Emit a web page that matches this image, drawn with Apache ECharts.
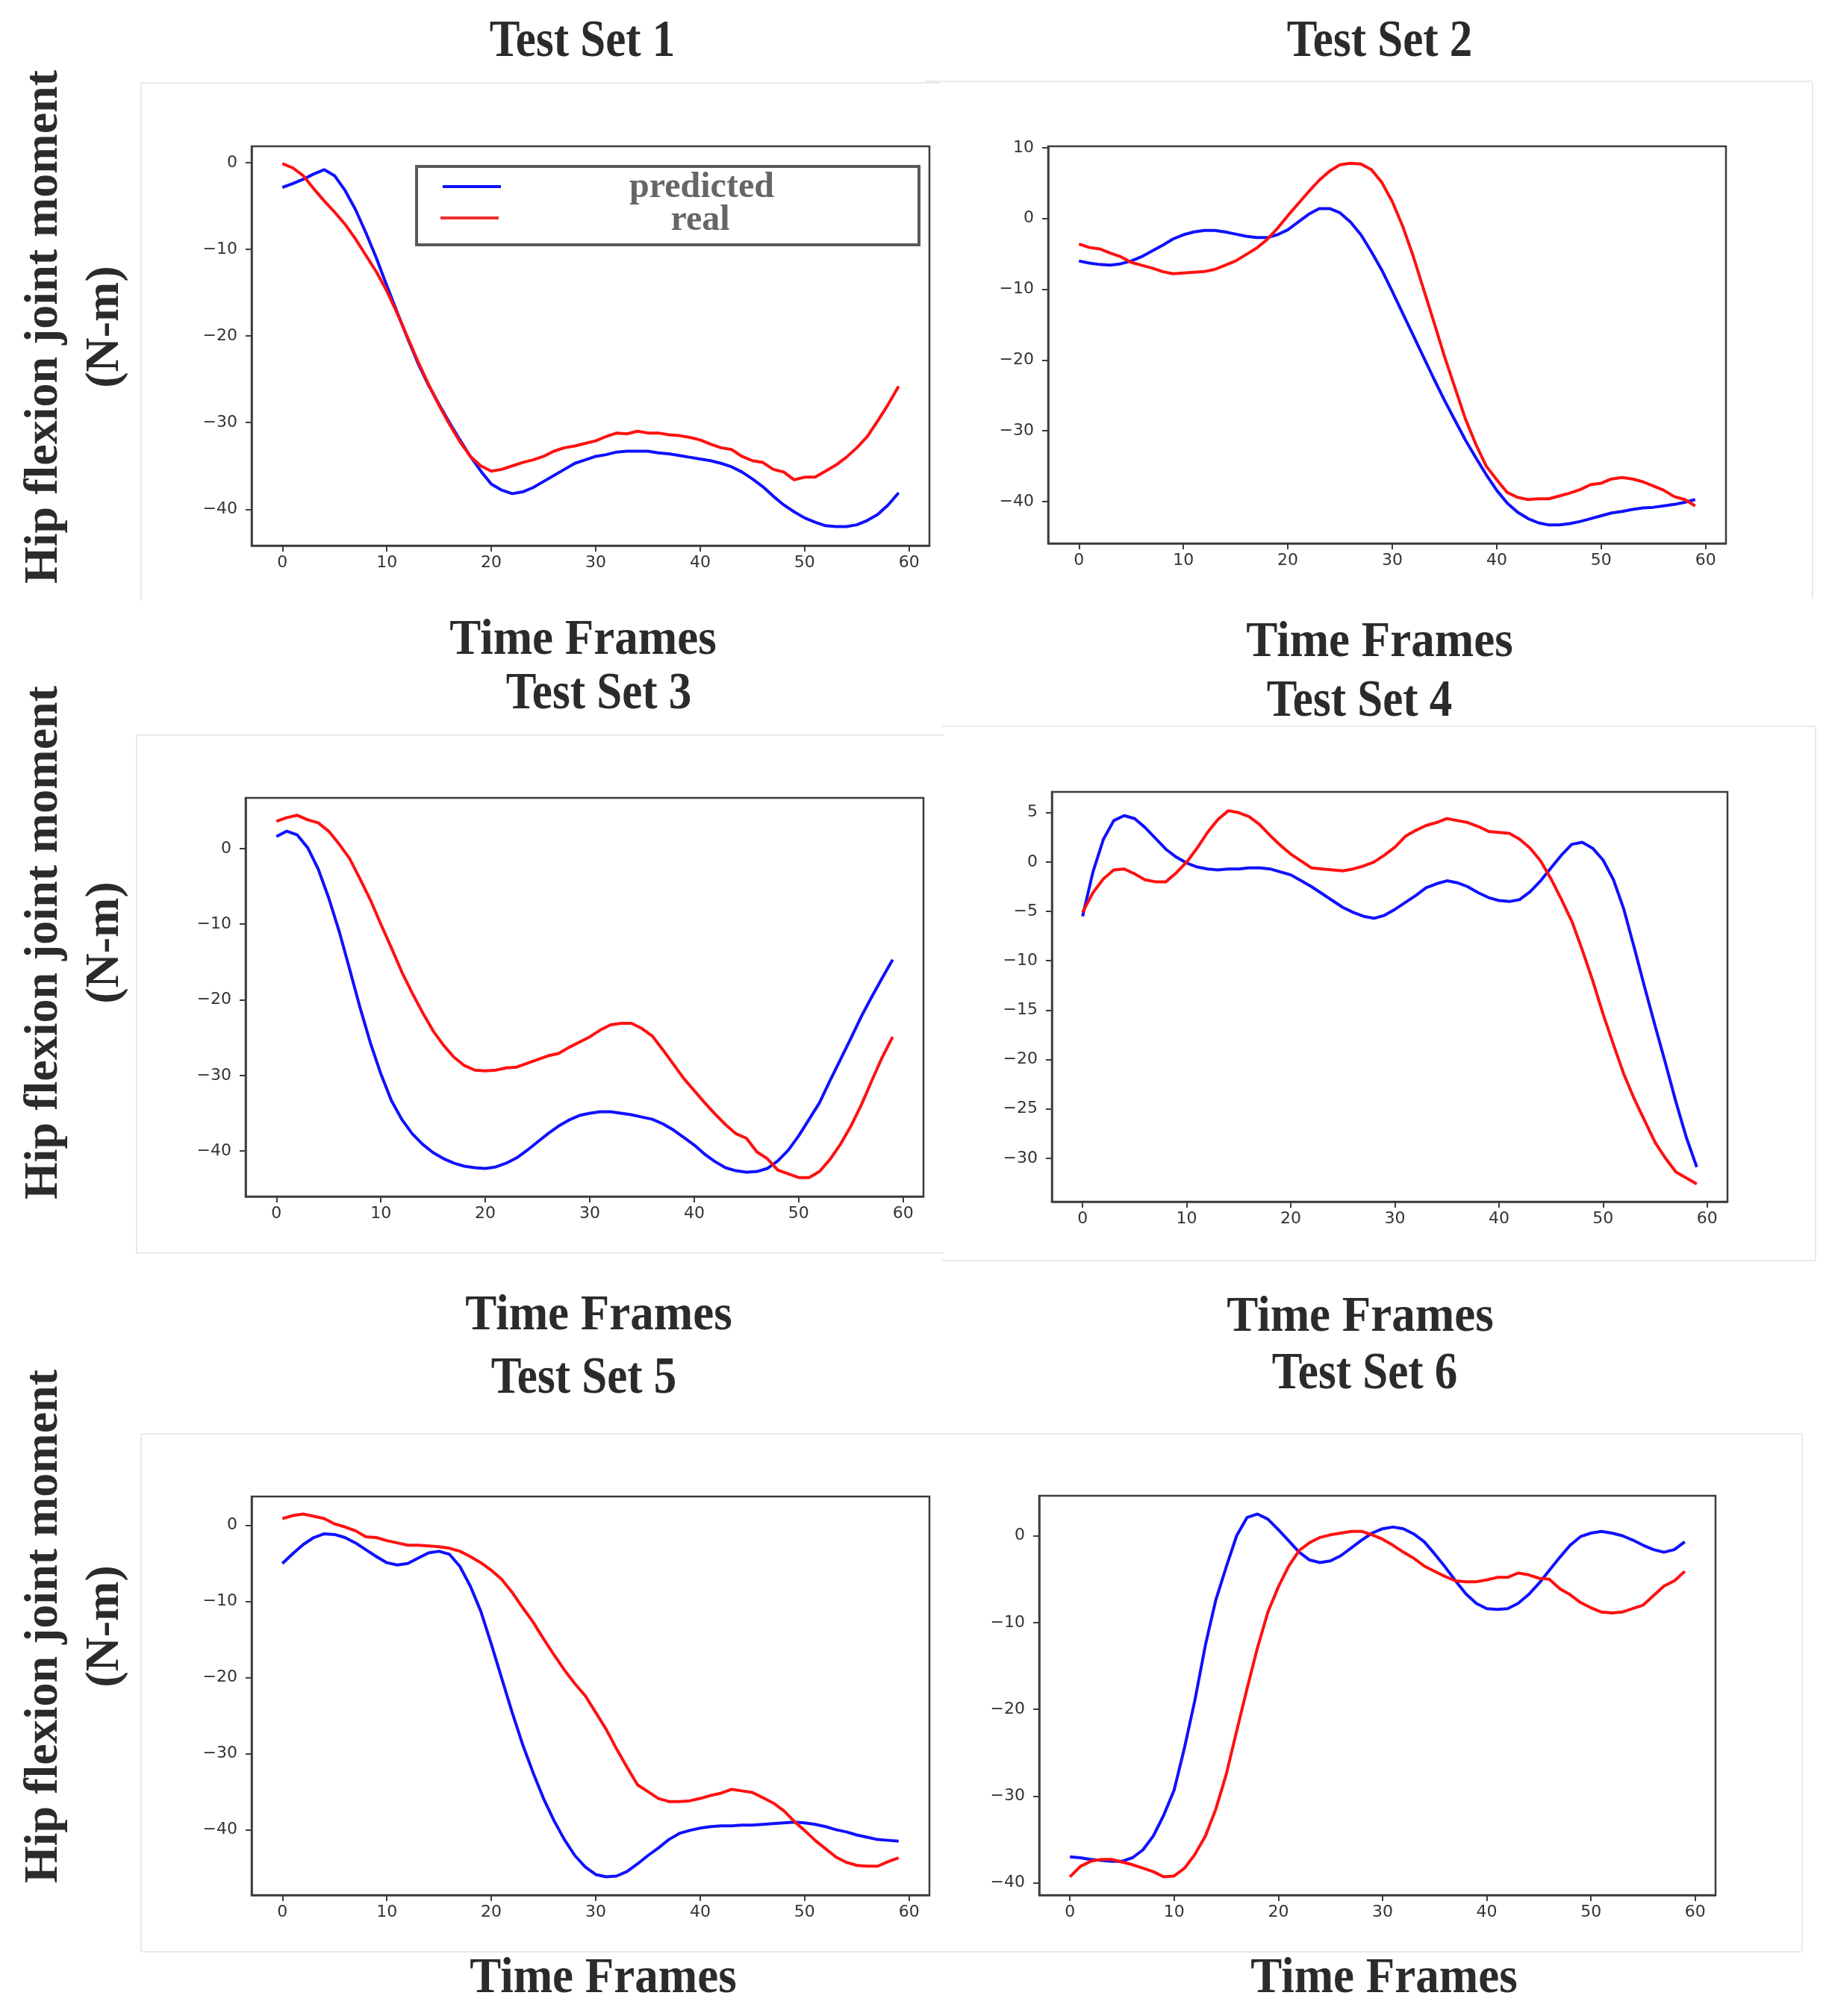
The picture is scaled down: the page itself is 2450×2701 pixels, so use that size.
<!DOCTYPE html>
<html>
<head>
<meta charset="utf-8">
<script src="https://cdn.jsdelivr.net/npm/echarts@6.0.0/dist/echarts.min.js"></script>
<style>
  html, body { margin: 0; padding: 0; background: #ffffff; }
  #chart { width: 2450px; height: 2701px; }
</style>
</head>
<body>
<div id="chart"></div>
<script>
// ---------------- data ----------------
const frames = Array.from({ length: 60 }, (_, i) => i);

const predicted1 = [-2.85, -2.4, -1.9, -1.3, -0.8, -1.5, -3.2, -5.4, -8.1, -11.0,
  -14.2, -17.3, -20.3, -23.2, -25.7, -27.9, -30.0, -32.0, -33.9, -35.6,
  -37.1, -37.8, -38.2, -38.0, -37.5, -36.8, -36.1, -35.4, -34.7, -34.3,
  -33.9, -33.7, -33.4, -33.3, -33.3, -33.3, -33.5, -33.6, -33.8, -34.0,
  -34.2, -34.4, -34.7, -35.1, -35.7, -36.5, -37.4, -38.5, -39.5, -40.3,
  -41.0, -41.5, -41.9, -42.0, -42.0, -41.8, -41.3, -40.6, -39.5, -38.1];
const real1 = [-0.1, -0.6, -1.5, -3.0, -4.4, -5.7, -7.1, -8.8, -10.7, -12.6,
  -14.8, -17.4, -20.2, -23.0, -25.6, -28.0, -30.2, -32.2, -33.9, -35.0,
  -35.6, -35.4, -35.0, -34.6, -34.3, -33.9, -33.3, -32.9, -32.7, -32.4,
  -32.1, -31.6, -31.2, -31.3, -31.0, -31.2, -31.2, -31.4, -31.5, -31.7,
  -32.0, -32.5, -32.9, -33.1, -33.9, -34.4, -34.6, -35.4, -35.7, -36.6,
  -36.3, -36.3, -35.6, -34.9, -34.0, -32.9, -31.6, -29.8, -27.9, -25.8];

const predicted2 = [-6.0, -6.3, -6.5, -6.6, -6.4, -6.0, -5.4, -4.6, -3.8, -2.9,
  -2.3, -1.9, -1.7, -1.7, -1.9, -2.2, -2.5, -2.7, -2.7, -2.3,
  -1.6, -0.5, 0.6, 1.4, 1.4, 0.8, -0.5, -2.3, -4.7, -7.3,
  -10.3, -13.4, -16.5, -19.6, -22.7, -25.7, -28.5, -31.3, -33.8, -36.2,
  -38.4, -40.2, -41.5, -42.4, -43.0, -43.3, -43.3, -43.1, -42.8, -42.4,
  -42.0, -41.6, -41.4, -41.1, -40.9, -40.8, -40.6, -40.4, -40.1, -39.7];
const real2 = [-3.6, -4.1, -4.3, -4.9, -5.4, -6.2, -6.6, -7.0, -7.5, -7.8,
  -7.7, -7.6, -7.5, -7.2, -6.6, -6.0, -5.1, -4.2, -3.0, -1.4,
  0.4, 2.1, 3.8, 5.4, 6.7, 7.6, 7.8, 7.7, 6.9, 5.1,
  2.4, -1.1, -5.3, -10.0, -14.7, -19.5, -23.9, -28.3, -31.9, -35.0,
  -36.9, -38.7, -39.4, -39.7, -39.6, -39.6, -39.2, -38.8, -38.3, -37.6,
  -37.4, -36.8, -36.6, -36.8, -37.2, -37.8, -38.4, -39.3, -39.7, -40.6];

const predicted3 = [1.6, 2.3, 1.8, 0.1, -2.7, -6.5, -10.9, -15.9, -21.0, -25.7,
  -29.8, -33.3, -35.8, -37.7, -39.1, -40.2, -41.0, -41.6, -42.0, -42.2,
  -42.3, -42.1, -41.6, -40.9, -39.9, -38.8, -37.7, -36.7, -35.9, -35.3,
  -35.0, -34.8, -34.8, -35.0, -35.2, -35.5, -35.8, -36.4, -37.2, -38.2,
  -39.2, -40.4, -41.4, -42.2, -42.6, -42.8, -42.7, -42.3, -41.3, -39.9,
  -38.0, -35.8, -33.6, -30.7, -27.9, -25.1, -22.2, -19.6, -17.1, -14.7];
const real3 = [3.6, 4.1, 4.4, 3.8, 3.4, 2.3, 0.6, -1.3, -4.0, -6.8,
  -10.0, -13.1, -16.3, -19.1, -21.7, -24.1, -26.0, -27.6, -28.7, -29.3,
  -29.4, -29.3, -29.0, -28.9, -28.4, -27.9, -27.4, -27.1, -26.3, -25.6,
  -24.9, -24.0, -23.3, -23.1, -23.1, -23.8, -24.8, -26.6, -28.5, -30.4,
  -32.0, -33.6, -35.1, -36.5, -37.7, -38.3, -40.1, -41.0, -42.5, -43.0,
  -43.5, -43.5, -42.7, -41.1, -39.1, -36.7, -33.9, -30.7, -27.6, -24.9];

const predicted4 = [-5.5, -1.0, 2.3, 4.2, 4.7, 4.4, 3.5, 2.4, 1.3, 0.5,
  -0.1, -0.5, -0.7, -0.8, -0.7, -0.7, -0.6, -0.6, -0.7, -1.0,
  -1.3, -1.9, -2.5, -3.2, -3.9, -4.6, -5.1, -5.5, -5.7, -5.4,
  -4.8, -4.1, -3.4, -2.6, -2.2, -1.9, -2.1, -2.5, -3.1, -3.6,
  -3.9, -4.0, -3.8, -3.0, -1.9, -0.6, 0.7, 1.8, 2.0, 1.4,
  0.2, -1.8, -4.8, -8.7, -12.7, -16.6, -20.4, -24.3, -27.9, -30.9];
const real4 = [-5.1, -3.1, -1.7, -0.8, -0.7, -1.2, -1.8, -2.0, -2.0, -1.1,
  0.0, 1.4, 3.0, 4.3, 5.2, 5.0, 4.6, 3.8, 2.7, 1.7,
  0.8, 0.1, -0.6, -0.7, -0.8, -0.9, -0.7, -0.4, 0.0, 0.7,
  1.5, 2.6, 3.2, 3.7, 4.0, 4.4, 4.2, 4.0, 3.6, 3.1,
  3.0, 2.9, 2.3, 1.4, 0.1, -1.7, -3.8, -6.0, -8.9, -12.0,
  -15.4, -18.5, -21.5, -24.0, -26.2, -28.4, -30.0, -31.4, -32.0, -32.6];

const predicted5 = [-5.0, -3.7, -2.5, -1.6, -1.1, -1.2, -1.6, -2.3, -3.2, -4.1,
  -4.9, -5.2, -5.0, -4.3, -3.6, -3.4, -3.8, -5.4, -8.0, -11.3,
  -15.6, -20.1, -24.6, -28.8, -32.5, -35.9, -38.8, -41.3, -43.4, -44.9,
  -45.9, -46.2, -46.1, -45.5, -44.5, -43.4, -42.4, -41.3, -40.5, -40.1,
  -39.8, -39.6, -39.5, -39.5, -39.4, -39.4, -39.3, -39.2, -39.1, -39.0,
  -39.1, -39.3, -39.6, -40.0, -40.3, -40.7, -41.0, -41.3, -41.4, -41.5];
const real5 = [0.9, 1.3, 1.5, 1.2, 0.9, 0.2, -0.2, -0.7, -1.5, -1.6,
  -2.0, -2.3, -2.6, -2.6, -2.7, -2.8, -3.0, -3.4, -4.1, -4.9,
  -5.9, -7.1, -8.8, -10.8, -12.7, -14.9, -17.0, -19.0, -20.8, -22.4,
  -24.6, -26.8, -29.4, -31.8, -34.1, -35.0, -35.9, -36.3, -36.3, -36.2,
  -35.9, -35.5, -35.2, -34.7, -34.9, -35.1, -35.8, -36.5, -37.5, -38.9,
  -40.1, -41.4, -42.5, -43.6, -44.3, -44.7, -44.8, -44.8, -44.2, -43.7];

const predicted6 = [-37.0, -37.1, -37.3, -37.4, -37.5, -37.5, -37.1, -36.2, -34.6, -32.2,
  -29.3, -24.4, -18.9, -12.6, -7.4, -3.6, 0.0, 2.1, 2.5, 1.9,
  0.7, -0.6, -1.9, -2.8, -3.1, -2.9, -2.3, -1.4, -0.5, 0.3,
  0.8, 1.0, 0.8, 0.2, -0.7, -2.1, -3.6, -5.2, -6.7, -7.8,
  -8.4, -8.5, -8.4, -7.8, -6.8, -5.5, -4.0, -2.5, -1.1, -0.1,
  0.3, 0.5, 0.3, 0.0, -0.5, -1.1, -1.6, -1.9, -1.6, -0.7];
const real6 = [-39.3, -38.1, -37.5, -37.3, -37.3, -37.6, -37.9, -38.3, -38.7, -39.3,
  -39.2, -38.3, -36.7, -34.6, -31.5, -27.5, -22.5, -17.6, -12.9, -8.8,
  -5.9, -3.5, -1.7, -0.8, -0.2, 0.1, 0.3, 0.5, 0.5, 0.1,
  -0.4, -1.1, -1.9, -2.6, -3.5, -4.1, -4.7, -5.2, -5.3, -5.3,
  -5.1, -4.8, -4.8, -4.3, -4.5, -4.9, -5.0, -6.1, -6.8, -7.7,
  -8.3, -8.8, -8.9, -8.8, -8.4, -8.0, -6.9, -5.8, -5.2, -4.1];

const panelTitles = ['Test Set 1', 'Test Set 2', 'Test Set 3', 'Test Set 4', 'Test Set 5', 'Test Set 6'];
const xLabel = 'Time Frames';
const yLabelMain = 'Hip flexion joint moment';
const yLabelUnit = '(N-m)';
const legendNames = ['predicted', 'real'];
const xTicks = [0, 10, 20, 30, 40, 50, 60];
const yTicksA = [-40, -30, -20, -10, 0];
const yTicksB = [-40, -30, -20, -10, 0, 10];
const yTicksC = [-30, -25, -20, -15, -10, -5, 0, 5];

const predictedSets = [predicted1, predicted2, predicted3, predicted4, predicted5, predicted6];
const realSets = [real1, real2, real3, real4, real5, real6];
const yTickSets = [yTicksA, yTicksB, yTicksA, yTicksC, yTicksA, yTicksA];

// ---------------- layout ----------------
const panels = [
  { grid: { left: 337, top: 196, width: 908, height: 535 }, y: [-44.2, 1.9] },
  { grid: { left: 1404, top: 196, width: 908, height: 532 }, y: [-45.9, 10.2] },
  { grid: { left: 329, top: 1069, width: 908, height: 534 }, y: [-46.0, 6.7] },
  { grid: { left: 1409, top: 1061, width: 905, height: 549 }, y: [-34.4, 7.1] },
  { grid: { left: 337, top: 2005, width: 908, height: 534 }, y: [-48.6, 3.8] },
  { grid: { left: 1392, top: 2004, width: 906, height: 535 }, y: [-41.4, 4.6] }
];
const xRange = [-2.95, 61.95];

const titlePos = [[780, 81], [1848, 81], [802, 955], [1821, 965], [782, 1872], [1828, 1866]];
const xLabelPos = [[781, 881], [1848, 884], [802, 1786], [1822, 1788], [808, 2674], [1854, 2674]];
const yLabelRows = [438, 1263, 2179];

const AX = '#3c3c3c';
const tickFont = { color: '#333333', fontSize: 22, fontFamily: 'DejaVu Sans' };
const minus = v => String(v).replace('-', '\u2212');

const grids = [], xAxes = [], yAxes = [], series = [];
panels.forEach((p, i) => {
  grids.push(Object.assign({ show: true, borderColor: AX, borderWidth: 2.5, backgroundColor: 'transparent', containLabel: false }, p.grid));
  xAxes.push({
    type: 'value', gridIndex: i, min: xRange[0], max: xRange[1],
    axisLine: { show: true, onZero: false, lineStyle: { color: AX, width: 2.5 } },
    axisTick: { show: true, length: 8, lineStyle: { color: AX, width: 2 }, customValues: xTicks },
    axisLabel: Object.assign({ margin: 12, customValues: xTicks, formatter: minus }, tickFont),
    splitLine: { show: false }
  });
  yAxes.push({
    type: 'value', gridIndex: i, min: p.y[0], max: p.y[1],
    axisLine: { show: true, onZero: false, lineStyle: { color: AX, width: 2.5 } },
    axisTick: { show: true, length: 8, lineStyle: { color: AX, width: 2 }, customValues: yTickSets[i] },
    axisLabel: Object.assign({ margin: 19, customValues: yTickSets[i], formatter: minus }, tickFont),
    splitLine: { show: false }
  });
  series.push({
    name: legendNames[0], type: 'line', xAxisIndex: i, yAxisIndex: i,
    data: frames.map((f, k) => [f, predictedSets[i][k]]),
    showSymbol: false, symbol: 'none', smooth: false, silent: true,
    lineStyle: { color: '#1010ff', width: 4 }, itemStyle: { color: '#1010ff' }
  });
  series.push({
    name: legendNames[1], type: 'line', xAxisIndex: i, yAxisIndex: i,
    data: frames.map((f, k) => [f, realSets[i][k]]),
    showSymbol: false, symbol: 'none', smooth: false, silent: true,
    lineStyle: { color: '#ff1010', width: 4 }, itemStyle: { color: '#ff1010' }
  });
});

// ---------------- texts & decorations ----------------
const SERIF = '"Liberation Serif", "Times New Roman", serif';
function txt(text, cx, baseline, fs, opt) {
  opt = opt || {};
  const sy = opt.scaleY || 1, sx = opt.scaleX || 1;
  const off = 0.3375 * fs * sy;
  return {
    type: 'text', x: cx, y: baseline - off,
    scaleX: sx, scaleY: sy, z: 200, silent: true,
    style: {
      text: text, font: 'bold ' + fs + 'px ' + SERIF, fill: opt.fill || '#2b2b2b',
      textAlign: 'center', textVerticalAlign: 'middle', align: 'center', verticalAlign: 'middle'
    }
  };
}
const graphic = [];
// faint frames of the pasted sub-figures
const frameLines = [
  [189, 111, 1260, 111], [189, 111, 189, 805],
  [1240, 109, 2428, 109], [2428, 111, 2428, 802],
  [183, 985, 1264, 985], [183, 985, 183, 1679], [183, 1679, 1264, 1679],
  [1262, 973, 2432, 973], [2432, 973, 2432, 1689], [1262, 1689, 2432, 1689],
  [189, 1921, 1252, 1921], [189, 1921, 189, 2615], [189, 2615, 1364, 2615],
  [1240, 1921, 2414, 1921], [2414, 1921, 2414, 2615], [1240, 2615, 2414, 2615]
];
frameLines.forEach(l => graphic.push({
  type: 'line', z: 1, silent: true,
  shape: { x1: l[0], y1: l[1], x2: l[2], y2: l[3] },
  style: { stroke: '#e9e9e9', lineWidth: 2 }
}));
panelTitles.forEach((t, i) => graphic.push(txt(t, titlePos[i][0], titlePos[i][1], 61, { scaleY: 1.15 })));
xLabelPos.forEach(p => graphic.push(txt(xLabel, p[0], p[1], 63, { scaleY: 1.06 })));
yLabelRows.forEach(cy => {
  graphic.push({ type: 'text', x: 59, y: cy, rotation: Math.PI / 2, z: 200, silent: true,
    style: { text: yLabelMain, font: 'bold 64px ' + SERIF, fill: '#2b2b2b', textAlign: 'center', textVerticalAlign: 'middle', align: 'center', verticalAlign: 'middle' } });
  graphic.push({ type: 'text', x: 141, y: cy, rotation: Math.PI / 2, z: 200, silent: true,
    style: { text: yLabelUnit, font: 'bold 64px ' + SERIF, fill: '#2b2b2b', textAlign: 'center', textVerticalAlign: 'middle', align: 'center', verticalAlign: 'middle' } });
});
// legend (panel 1)
graphic.push({ type: 'rect', z: 150, silent: true, shape: { x: 558, y: 223, width: 673, height: 105 },
  style: { fill: '#ffffff', stroke: '#555a5e', lineWidth: 4 } });
graphic.push({ type: 'line', z: 160, silent: true, shape: { x1: 593, y1: 250, x2: 671, y2: 250 },
  style: { stroke: '#1010ff', lineWidth: 4 } });
graphic.push({ type: 'line', z: 160, silent: true, shape: { x1: 590, y1: 292, x2: 668, y2: 292 },
  style: { stroke: '#ee3030', lineWidth: 4 } });
graphic.push(txt(legendNames[0], 940, 268, 48, { fill: '#666666' }));
graphic.push(txt(legendNames[1], 938, 312, 48, { fill: '#666666' }));

const chart = echarts.init(document.getElementById('chart'), null, { renderer: 'canvas' });
chart.setOption({
  animation: false,
  backgroundColor: '#ffffff',
  grid: grids,
  xAxis: xAxes,
  yAxis: yAxes,
  series: series,
  graphic: graphic
});
</script>
</body>
</html>
